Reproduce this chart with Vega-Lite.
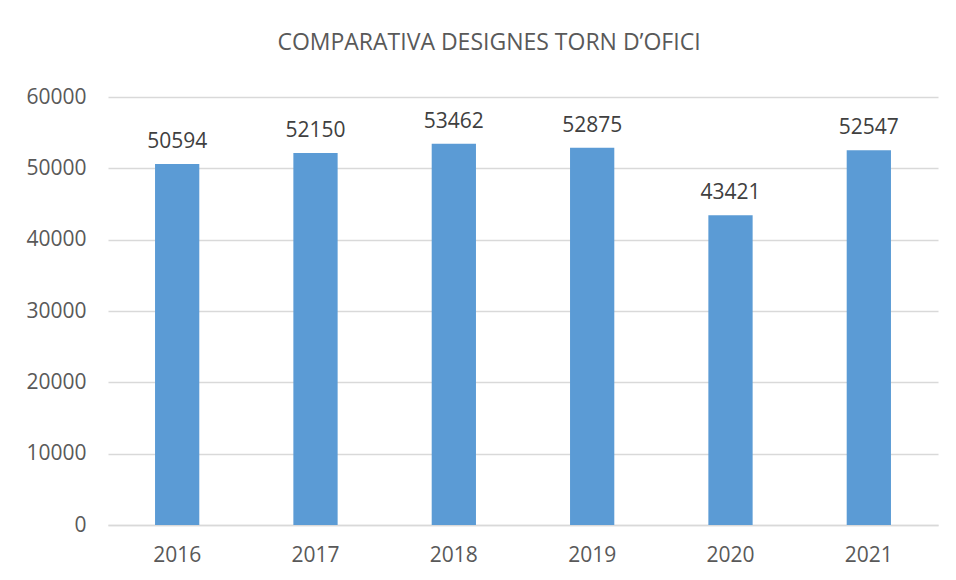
{
  "$schema": "https://vega.github.io/schema/vega-lite/v6.json",
  "width": 830,
  "height": 428,
  "autosize": "none",
  "padding": {"left": 108, "top": 97, "right": 18, "bottom": 55},
  "background": "white",
  "config": {"view": {"stroke": null}, "font": "Open Sans"},
  "title": {
    "text": "COMPARATIVA DESIGNES TORN D’OFICI",
    "fontSize": 23,
    "fontWeight": "normal",
    "color": "#595959",
    "font": "Open Sans",
    "anchor": "middle",
    "offset": 31,
    "dx": -34
  },
  "data": {
    "values": [
      {"year": "2016", "value": 50594},
      {"year": "2017", "value": 52150},
      {"year": "2018", "value": 53462},
      {"year": "2019", "value": 52875},
      {"year": "2020", "value": 43421},
      {"year": "2021", "value": 52547}
    ]
  },
  "encoding": {
    "x": {
      "field": "year",
      "type": "nominal",
      "scale": {"paddingInner": 0.68, "paddingOuter": 0.34},
      "axis": {
        "title": null,
        "labelAngle": 0,
        "labelFontSize": 21,
        "labelColor": "#595959",
        "labelPadding": 19,
        "ticks": false,
        "domainColor": "#d9d9d9",
        "domainWidth": 1.5
      }
    },
    "y": {
      "field": "value",
      "type": "quantitative",
      "scale": {"domain": [0, 60000]},
      "axis": {
        "title": null,
        "values": [0, 10000, 20000, 30000, 40000, 50000, 60000],
        "format": "d",
        "labelFontSize": 21,
        "labelColor": "#595959",
        "labelPadding": 22,
        "ticks": false,
        "domain": false,
        "gridColor": "#d9d9d9",
        "gridWidth": 1.5
      }
    }
  },
  "layer": [
    {"mark": {"type": "bar", "color": "#5b9bd5"}},
    {
      "mark": {"type": "text", "fontSize": 21, "color": "#404040", "baseline": "alphabetic", "dy": -16},
      "encoding": {"text": {"field": "value", "type": "quantitative", "format": "d"}}
    }
  ]
}
